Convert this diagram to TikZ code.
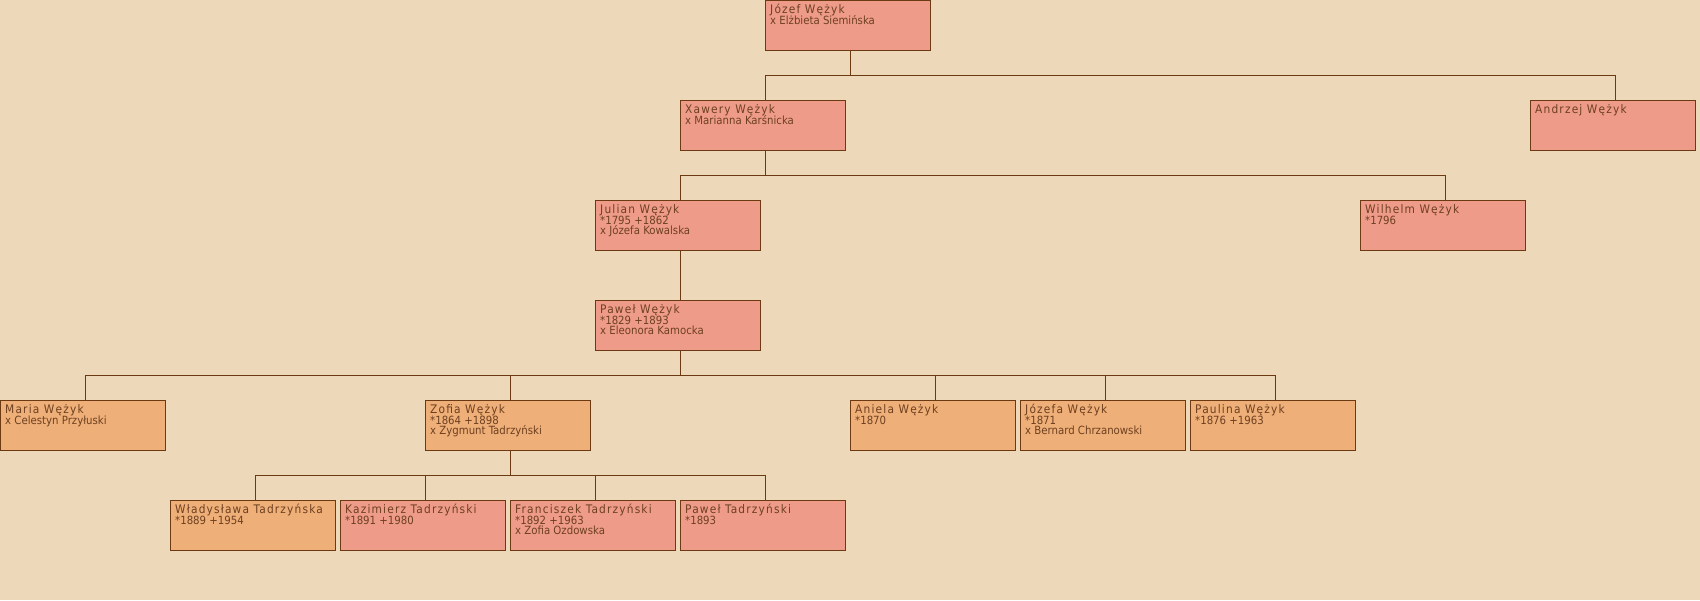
\documentclass[tikz,border=0pt]{standalone}
\usepackage{fontspec}
\setmainfont{DejaVu Sans Condensed}
\usetikzlibrary{calc}
\definecolor{bg}{HTML}{EED8BA}
\definecolor{pinkf}{HTML}{EE9B8A}
\definecolor{orangef}{HTML}{EEAF78}
\definecolor{edge}{HTML}{6B3A12}
\definecolor{ink}{HTML}{6E4020}
\newcommand{\txtfont}{\fontsize{11.3}{10.6}\selectfont\lineskiplimit=-100pt\relax}
\tikzset{
  person/.style={draw=edge, line width=1.1pt, minimum width=165pt, minimum height=50pt, anchor=north west, inner sep=0pt},
  pk/.style={person, fill=pinkf},
  og/.style={person, fill=orangef},
  txt/.style={anchor=north west, inner sep=0pt, align=left, text=ink, font=\txtfont},
  link/.style={draw=edge, line width=0.8pt}
}
\newcommand{\nm}[1]{\rule{0pt}{10pt}{\fontsize{11.8}{10.6}\selectfont\addfontfeature{LetterSpace=10}#1}}
\begin{document}
\begin{tikzpicture}[x=1pt,y=-1pt]
\fill[bg] (0,0) rectangle (1700,600);
\useasboundingbox (0,0) rectangle (1700,600);
\coordinate (b0) at (0,75);
\coordinate (b1) at (0,175);
\coordinate (b3) at (0,375);
\coordinate (b4) at (0,475);
% boxes
\node[pk] (jozef) at (765,0) {};
\node[pk] (xawery) at (680,100) {};
\node[pk] (andrzej) at (1530,100) {};
\node[pk] (julian) at (595,200) {};
\node[pk] (wilhelm) at (1360,200) {};
\node[pk] (pawel) at (595,300) {};
\node[og] (maria) at (0,400) {};
\node[og] (zofia) at (425,400) {};
\node[og] (aniela) at (850,400) {};
\node[og] (jozefa) at (1020,400) {};
\node[og] (paulina) at (1190,400) {};
\node[og] (wlad) at (170,500) {};
\node[pk] (kazim) at (340,500) {};
\node[pk] (franc) at (510,500) {};
\node[pk] (pawelt) at (680,500) {};
% connection points, slightly right of centre as in the reference
\foreach \c in {jozef,xawery,andrzej,julian,wilhelm,pawel,maria,zofia,aniela,jozefa,paulina,wlad,kazim,franc,pawelt}{
  \coordinate (\c-t) at ($(\c.north)+(2.5,0)$);
  \coordinate (\c-b) at ($(\c.south)+(2.5,0)$);
}
% links
\draw[link] (jozef-b) -- (jozef-b |- b0);
\draw[link] (xawery-t |- b0) -- (andrzej-t |- b0);
\foreach \c in {xawery,andrzej} \draw[link] (\c-t |- b0) -- (\c-t);
\draw[link] (xawery-b) -- (xawery-b |- b1);
\draw[link] (julian-t |- b1) -- (wilhelm-t |- b1);
\foreach \c in {julian,wilhelm} \draw[link] (\c-t |- b1) -- (\c-t);
\draw[link] (julian-b) -- (pawel-t);
\draw[link] (pawel-b) -- (pawel-b |- b3);
\draw[link] (maria-t |- b3) -- (paulina-t |- b3);
\foreach \c in {maria,zofia,aniela,jozefa,paulina} \draw[link] (\c-t |- b3) -- (\c-t);
\draw[link] (zofia-b) -- (zofia-b |- b4);
\draw[link] (wlad-t |- b4) -- (pawelt-t |- b4);
\foreach \c in {wlad,kazim,franc,pawelt} \draw[link] (\c-t |- b4) -- (\c-t);
% texts
\foreach \n/\t in {
  jozef/{\nm{Józef Wężyk}\\x Elżbieta Siemińska},
  xawery/{\nm{Xawery Wężyk}\\x Marianna Karśnicka},
  andrzej/{\nm{Andrzej Wężyk}},
  julian/{\nm{Julian Wężyk}\\*1795 +1862\\x Józefa Kowalska},
  wilhelm/{\nm{Wilhelm Wężyk}\\*1796},
  pawel/{\nm{Paweł Wężyk}\\*1829 +1893\\x Eleonora Kamocka},
  maria/{\nm{Maria Wężyk}\\x Celestyn Przyłuski},
  zofia/{\nm{Zofia Wężyk}\\*1864 +1898\\x Zygmunt Tadrzyński},
  aniela/{\nm{Aniela Wężyk}\\*1870},
  jozefa/{\nm{Józefa Wężyk}\\*1871\\x Bernard Chrzanowski},
  paulina/{\nm{Paulina Wężyk}\\*1876 +1963},
  wlad/{\nm{Władysława Tadrzyńska}\\*1889 +1954},
  kazim/{\nm{Kazimierz Tadrzyński}\\*1891 +1980},
  franc/{\nm{Franciszek Tadrzyński}\\*1892 +1963\\x Zofia Ozdowska},
  pawelt/{\nm{Paweł Tadrzyński}\\*1893}}
  \node[txt] at ($(\n.north west)+(5,3.5)$) {\t};
\end{tikzpicture}
\end{document}
